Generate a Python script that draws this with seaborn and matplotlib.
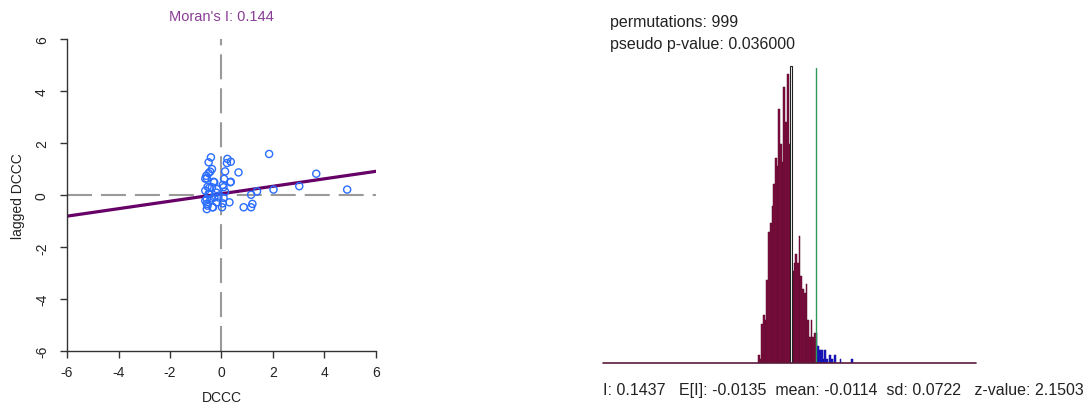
import numpy as np
import pandas as pd
import matplotlib
matplotlib.use("Agg")
import matplotlib.pyplot as plt
import seaborn as sns

# ---- Moran scatter data (standardized DCCC vs spatial lag) ----
dccc = [-0.41, -0.50, 0.23, 0.36, 0.21, -0.44, -0.50, -0.59, -0.57, 0.14,
        0.66, -0.31, 0.10, 0.34, 0.05, -0.47, -0.18, -0.50, 0.14, -0.57,
        -0.37, -0.12, -0.57, -0.57, -0.35, -0.18, 0.05, 0.31, 0.86, 1.15,
        1.20, 1.15, 1.38, 1.85, 2.02, 3.02, 3.68, 4.88, -0.37, -0.63,
        -0.28, 0.36, -0.54, -0.37, 0.08, -0.63, -0.47, -0.28, 0.08, -0.63,
        -0.54, -0.33, 0.02, -0.44, -0.20]
lagged = [1.46, 1.27, 1.40, 1.29, 1.24, 0.91, 0.85, 0.75, 0.65, 0.92,
          0.88, 0.52, 0.63, 0.50, 0.40, 0.29, 0.24, 0.05, 0.14, -0.14,
          -0.12, -0.08, -0.33, -0.53, -0.46, -0.27, -0.31, -0.27, -0.46, -0.46,
          -0.33, 0.02, 0.15, 1.59, 0.22, 0.35, 0.83, 0.22, 1.01, 0.64,
          0.50, 0.52, 0.33, 0.31, 0.31, 0.18, 0.05, -0.08, -0.10, -0.21,
          -0.40, -0.46, -0.46, -0.20, 0.10]
moran_i = 0.1437
lag_intercept = 0.06
ticks = [-6, -4, -2, 0, 2, 4, 6]

# ---- Permutation reference distribution (999 permutations) ----
perm_counts_low = [2, 1, 9, 11, 10, 19, 30, 32, 36, 41, 47, 45, 58, 50, 46, 63,
                   55, 66, 50, 68, 21, 23, 25, 23, 29, 20, 17, 16, 18, 10, 6,
                   10, 6, 7]
perm_counts_high = [7, 4, 3, 3, 1, 3, 1, 0, 2, 1, 0, 2, 0, 0, 1, 0, 0, 0, 0, 0,
                    0, 1]
bin_width = 0.011
highlight_bin = 19
n_perm = 999
p_value = 0.036
expected_i = -0.0135
perm_mean = -0.0114
perm_sd = 0.0722
z_value = 2.1503

sns.set_theme(style="white")
plt.rcParams["font.family"] = ["Liberation Sans", "DejaVu Sans"]

W, H = 1089, 410
fig = plt.figure(figsize=(W / 100, H / 100), dpi=100)

# ---------------- left: Moran scatter plot ----------------
ax = fig.add_axes([67 / W, 1 - 352.3 / H, (376 - 67) / W, (352.3 - 40.3) / H])
ax.set_xlim(-6, 6)
ax.set_ylim(-6, 6)
dash = (0, (12, 4.3))
ax.axhline(0, color="#9a9a9a", lw=1.5, ls=dash, zorder=1)
ax.axvline(0, color="#9a9a9a", lw=1.5, ls=dash, zorder=1)
sns.scatterplot(x=dccc, y=lagged, ax=ax, marker="o", s=26, color="#2a6dff",
                edgecolor="#2a6dff", linewidth=1.0, zorder=3)
ax.collections[-1].set_facecolor("none")
ax.axline((0, lag_intercept), slope=moran_i, color="#660066", lw=2.3, zorder=2)

for side in ["top", "right"]:
    ax.spines[side].set_visible(False)
for side in ["left", "bottom"]:
    ax.spines[side].set_color("#333333")
    ax.spines[side].set_linewidth(1.0)
ax.set_xticks(ticks)
ax.set_yticks(ticks)
ax.set_xticklabels([str(t) for t in ticks])
ax.set_yticklabels([str(t) for t in ticks], rotation=90, va="center")
ax.tick_params(axis="both", direction="out", length=5, width=1,
               color="#333333", labelsize=10, labelcolor="#222222",
               left=True, bottom=True)
ax.tick_params(axis="x", pad=5)
ax.tick_params(axis="y", pad=8)
ax.set_xlabel("DCCC", fontsize=10, color="#222222", va="center")
ax.xaxis.set_label_coords(0.5, (352.3 - 398) / 312)
ax.set_ylabel("lagged DCCC", fontsize=10, color="#222222", va="center")
ax.yaxis.set_label_coords((18 - 67) / 309, 0.5)
ax.set_title(f"Moran's I: {moran_i:.3f}", fontsize=10.5, color="#8a3d96",
             pad=14)

# ---------------- right: permutation histogram ----------------
hx = fig.add_axes([603 / W, 1 - 364.3 / H, (976 - 603) / W, (364.3 - 60) / H])
n_low = len(perm_counts_low)
counts = perm_counts_low + perm_counts_high
n_bins = len(counts)
edges = moran_i + bin_width * (np.arange(n_bins + 1) - n_low)
centers = (edges[:-1] + edges[1:]) / 2
groups = ["below"] * n_low + ["above"] * len(perm_counts_high)
df = pd.DataFrame({"I": centers, "count": counts, "group": groups})

sns.histplot(data=df, x="I", weights="count", hue="group", bins=n_bins,
             binrange=(float(edges[0]), float(edges[-1])),
             palette={"below": "#800a3e", "above": "#1a14c8"},
             hue_order=["below", "above"], multiple="layer", alpha=1,
             linewidth=0, legend=False, ax=hx)
# thin dark outline along bar tops / sides
for p in hx.patches:
    if p.get_height() > 0:
        p.set_edgecolor("#5a1030" if p.get_facecolor()[2] < 0.5 else "#14108a")
        p.set_linewidth(0.35)
# reference bin drawn hollow
for p in hx.patches:
    if abs(p.get_x() - edges[highlight_bin]) < 1e-6 and p.get_height() > 0:
        p.set_facecolor("white")
        p.set_edgecolor("#222222")
        p.set_linewidth(0.8)
        p.set_zorder(3)

hx.set_xlim(-1.233, 1.181)
hx.set_ylim(0, 69.5)
hx.axvline(moran_i, ymin=0, ymax=0.97, color="#2e9a5a", lw=1.0, zorder=4)
hx.axhline(0, color="#5a1a3c", lw=1.2, clip_on=False, zorder=5)
hx.set_axis_off()

fig.text(610 / W, 1 - 23 / H, f"permutations: {n_perm}", fontsize=11.5,
         color="#222222", va="center", ha="left")
fig.text(610 / W, 1 - 44 / H, f"pseudo p-value: {p_value:.6f}", fontsize=11.5,
         color="#222222", va="center", ha="left")
fig.text(603 / W, 1 - 391 / H,
         f"I: {moran_i:.4f}   E[I]: {expected_i:.4f}  mean: {perm_mean:.4f}"
         f"  sd: {perm_sd:.4f}   z-value: {z_value:.4f}",
         fontsize=11.5, color="#222222", va="center", ha="left")

fig.savefig("out.png", dpi=100, facecolor="white")
